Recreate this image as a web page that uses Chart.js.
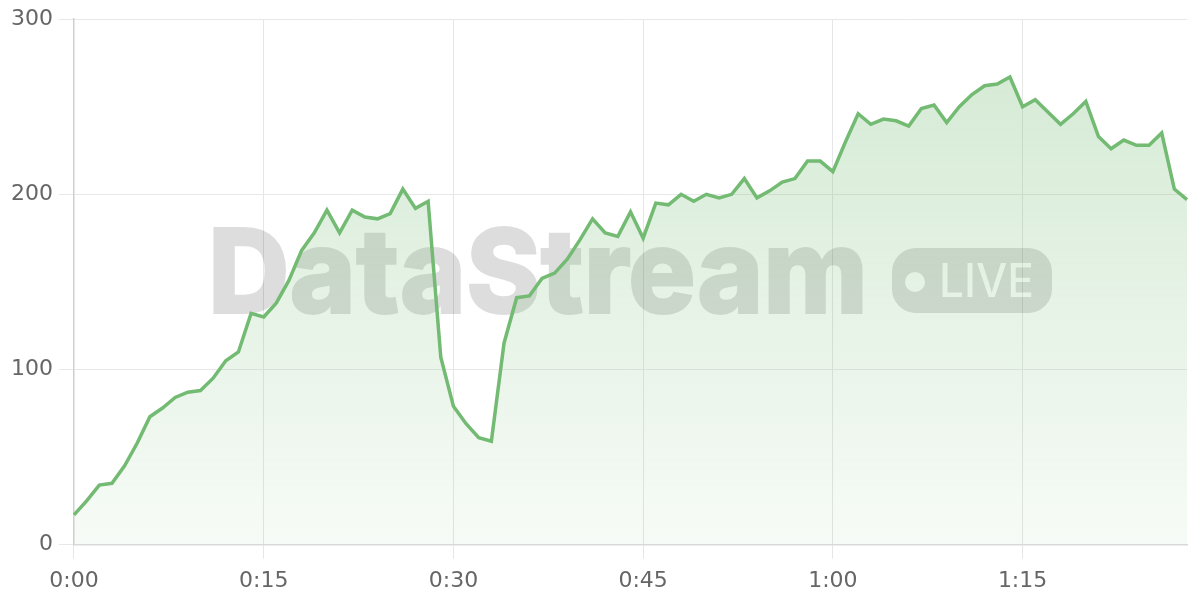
<!DOCTYPE html>
<html>
<head>
<meta charset="utf-8">
<script src="https://cdn.jsdelivr.net/npm/chart.js@4"></script>
<style>
  html, body { margin: 0; padding: 0; background: #fff; }
  #wrap { width: 1200px; height: 600px; position: relative; }
</style>
</head>
<body>
<div id="wrap"><canvas id="chart"></canvas></div>
<script>
// minutes since start, one sample per minute
const minutes = Array.from({ length: 89 }, (_, i) => i);
const timeLabels = minutes.map(m => Math.floor(m / 60) + ':' + String(m % 60).padStart(2, '0'));

const viewers = [
    17, 25, 34, 35, 45, 58, 73, 78, 84, 87,
    88, 95, 105, 110, 132, 130, 138, 151, 168, 178,
    191, 178, 191, 187, 186, 189, 203, 192, 196, 107,
    79, 69, 61, 59, 115, 141, 142, 152, 155, 163,
    174, 186, 178, 176, 190, 175, 195, 194, 200, 196,
    200, 198, 200, 209, 198, 202, 207, 209, 219, 219,
    213, 230, 246, 240, 243, 242, 239, 249, 251, 241,
    250, 257, 262, 263, 267, 250, 254, 247, 240, 246,
    253, 233, 226, 231, 228, 228, 235, 203, 197
];

const yTicks = [0, 100, 200, 300];
const watermarkText = 'DataStream';
const badgeText = 'LIVE';

const lineColor = 'rgb(115, 186, 115)';
const tickFont = { family: 'DejaVu Sans', size: 22 };

// watermark is drawn opaque on its own canvas, then laid in with alpha
function buildWatermark(width, height) {
    const off = document.createElement('canvas');
    off.width = width;
    off.height = height;
    const c = off.getContext('2d');
    c.fillStyle = '#000';
    c.strokeStyle = '#000';
    c.lineJoin = 'miter';

    c.save();
    c.font = '800 117px Inter';
    const w = c.measureText(watermarkText).width;
    c.translate(208, 313);
    c.scale(660 / w, 1);
    c.lineWidth = 2;
    c.fillText(watermarkText, 0, 0);
    c.strokeText(watermarkText, 0, 0);
    c.restore();

    c.beginPath();
    c.roundRect(892, 248, 160, 65, 24);
    c.fill();

    c.globalCompositeOperation = 'destination-out';
    c.beginPath();
    c.arc(915, 282, 10, 0, Math.PI * 2);
    c.fill();
    c.save();
    c.font = '500 46px Inter';
    const lw = c.measureText(badgeText).width;
    c.translate(939, 297);
    c.scale(95 / lw, 1);
    c.fillText(badgeText, 0, 0);
    c.restore();
    return off;
}

const watermark = {
    id: 'watermark',
    beforeDatasetsDraw(chart) {
        const ctx = chart.ctx;
        const img = buildWatermark(chart.width, chart.height);
        ctx.save();
        ctx.globalAlpha = 0.135;
        ctx.drawImage(img, 0, 0);
        ctx.restore();
    }
};

new Chart(document.getElementById('chart'), {
    type: 'line',
    data: {
        labels: timeLabels,
        datasets: [{
            data: viewers,
            borderColor: lineColor,
            borderWidth: 3.5,
            fill: true,
            backgroundColor: (c) => {
                const area = c.chart.chartArea;
                if (!area) return 'rgba(115, 186, 115, 0.2)';
                const g = c.chart.ctx.createLinearGradient(0, area.top, 0, area.bottom);
                g.addColorStop(0, 'rgba(115, 186, 115, 0.32)');
                g.addColorStop(1, 'rgba(115, 186, 115, 0.06)');
                return g;
            },
            tension: 0,
            pointRadius: 0,
            pointHoverRadius: 0,
        }]
    },
    options: {
        responsive: true,
        maintainAspectRatio: false,
        animation: false,
        layout: { padding: { top: 8, right: 13, left: 5, bottom: -3 } },
        plugins: {
            legend: { display: false },
            tooltip: { enabled: false }
        },
        scales: {
            x: {
                type: 'category',
                offset: false,
                grid: {
                    color: (c) => (c.index % 15 === 0 ? '#e6e6e6' : 'transparent'),
                    tickLength: 14,
                },
                border: { color: '#d9d9d9', width: 1.5 },
                ticks: {
                    autoSkip: false,
                    maxRotation: 0,
                    minRotation: 0,
                    padding: 9,
                    color: '#666',
                    font: tickFont,
                    callback: function (val, index) {
                        return index % 15 === 0 ? this.getLabelForValue(val) : '';
                    }
                }
            },
            y: {
                min: 0,
                max: 300,
                afterBuildTicks: (axis) => { axis.ticks = yTicks.map(v => ({ value: v })); },
                grid: { color: '#e8e8e8', tickLength: 15 },
                border: { color: '#cfcfcf', width: 1.5 },
                ticks: {
                    padding: 6,
                    color: '#666',
                    font: tickFont,
                }
            }
        }
    },
    plugins: [watermark]
});
</script>
</body>
</html>
